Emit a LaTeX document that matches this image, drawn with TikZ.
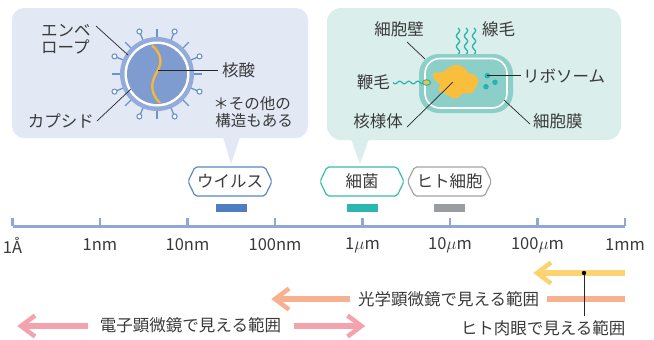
\documentclass[tikz,border=0pt]{standalone}
\usepackage{fontspec}
\setmainfont{Noto Sans CJK JP}
\usetikzlibrary{calc}

\definecolor{txt}{HTML}{3A3A3A}
\definecolor{bubV}{HTML}{E3E8F5}
\definecolor{bubB}{HTML}{DAEEEB}
\definecolor{ringV}{HTML}{93ABDA}
\definecolor{coreV}{HTML}{7F9CD1}
\definecolor{spikeV}{HTML}{6E91CF}
\definecolor{nucl}{HTML}{F6B935}
\definecolor{cellB}{HTML}{8CCFC8}
\definecolor{tealD}{HTML}{2AB3AC}
\definecolor{blob}{HTML}{F9BE3C}
\definecolor{hexV}{HTML}{5B84C8}
\definecolor{hexB}{HTML}{38BAB1}
\definecolor{hexH}{HTML}{A3A3A3}
\definecolor{barV}{HTML}{4F7DC1}
\definecolor{barB}{HTML}{2BB7AF}
\definecolor{barH}{HTML}{9A9D9F}
\definecolor{axisc}{HTML}{8FA7D7}
\definecolor{arrY}{HTML}{FDD370}
\definecolor{arrO}{HTML}{F7B18E}
\definecolor{arrP}{HTML}{F4A2AD}

% elongated hexagon (pointed left/right ends) around a named node
\newcommand\hexframe[2]{%
  \draw[#1, line width=1.2pt, rounded corners=2pt]
    ($(#2)+(-42,0)$) -- ++(7,-14.5) -- ++(70,0) -- ++(7,14.5)
    -- ++(-7,14.5) -- ++(-70,0) -- cycle;}

% open chevron arrow head with its tip at a named coordinate
\newcommand\arrowchevron[2]{%
  \draw[#1, line width=4.5pt, line join=miter]
    ($(#2)+(14,-10.5)$) -- (#2) -- ($(#2)+(14,10.5)$);}

\begin{document}
\begin{tikzpicture}[x=1pt,y=-1pt,
  lbl/.style={font=\fontsize{16.5}{19}\selectfont, text=txt, inner sep=0pt},
  note/.style={font=\fontsize{15.5}{18}\selectfont, text=txt, inner sep=0pt},
  lead/.style={draw=black!85, line width=0.7pt},
  spike/.style={draw=spikeV, line width=1.3pt},
  sizebar/.style={minimum width=31pt, minimum height=8pt, inner sep=0pt},
  band/.style={line width=6pt}]
\useasboundingbox (0,0) rectangle (654,340);

% ---------- speech bubbles ----------
\fill[bubV, rounded corners=12pt] (12,8) rectangle (308,138);
\fill[bubV] (223,137) -- (231,164) -- (240,137) -- cycle;
\fill[bubB, rounded corners=14pt] (327,8) rectangle (621,140);
\fill[bubB] (351,139) -- (360,164) -- (369,139) -- cycle;

% ---------- virus ----------
\coordinate (vc) at (157,74);
\foreach \a in {0,45,...,315}
  \draw[spike] ($(vc)+(\a:36)$) -- ($(vc)+(\a:45)$);
\foreach \a in {22.5,67.5,...,337.5}{
  \draw[spike] ($(vc)+(\a:36)$) -- ($(vc)+(\a:43.5)$);
  \draw[spike, fill=white, line width=1.1pt] ($(vc)+(\a:46)$) circle[radius=2.5];}
\fill[ringV] (vc) circle[radius=37];
\fill[white] (vc) circle[radius=32.5];
\fill[coreV] (vc) circle[radius=30];
\draw[nucl, line width=2.3pt]
  (152,45.5) .. controls (160,52) and (163,61) .. (158,70)
  .. controls (152,80) and (148,91) .. (160,103);

\node[lbl, anchor=west] (env1) at (41,31) {エンベ};
\node[lbl, anchor=west] (env2) at (41,47) {ロープ};
\node[lbl, anchor=east] (cap) at (94,121) {カプシド};
\node[lbl, anchor=west] (nuc) at (222,70) {核酸};
\node[note, anchor=east] (note1) at (291,103.5) {＊その他の};
\node[note, anchor=east] (note2) at (293,121) {構造もある};

\coordinate (envA) at (96,26);   \coordinate (envB) at (128,55);
\coordinate (capA) at (97,121);  \coordinate (capB) at (131,89);
\coordinate (nucA) at (158,70);  \coordinate (nucB) at (218,70);
\draw[lead] (envA) -- (envB);
\draw[lead] (capA) -- (capB);
\draw[lead] (nucA) -- (nucB);

% ---------- bacterium ----------
\foreach \px in {458,466,474}
  \draw[tealD, line width=1.3pt]
    plot[domain=0:27, samples=40, smooth] ({\px+1.6*sin(\x*34)}, {28+\x});
\fill[cellB, rounded corners=20pt] (419,54) rectangle (513,113);
\draw[white, line width=1.6pt, rounded corners=15pt] (425,58.5) rectangle (507,108);
\fill[blob] plot[smooth cycle, tension=0.6] coordinates {
  (433.3,73.3) (443.3,71.7) (450,66.7) (458.3,65) (466.7,70) (468.3,73.3)
  (475,75) (478.3,81.7) (475,88.3) (471.7,93.3) (463.3,93.3) (456.7,98.3)
  (450,96.7) (445,93.3) (438.3,90) (440,85) (435,80)};
\fill[tealD] (487.3,75.7) circle[radius=2.8];
\fill[tealD] (495,82.3) circle[radius=2.8];
\fill[tealD] (486,86.7) circle[radius=2.8];
\draw[tealD, line width=1.2pt]
  plot[domain=393:423, samples=40, smooth] (\x, {82.5+1.3*sin((\x-393)*40)});
\draw[tealD, fill=blob, line width=1pt] (426.5,82.5) ellipse[x radius=4, y radius=2.8];

\node[lbl, anchor=east] (wall) at (424,29) {細胞壁};
\node[lbl, anchor=west] (pili) at (482,29) {線毛};
\node[lbl, anchor=east] (flag) at (390,82) {鞭毛};
\node[lbl, anchor=west] (ribo) at (523,76) {リボソーム};
\node[lbl, anchor=east] (nucd) at (403,121.5) {核様体};
\node[lbl, anchor=west] (memb) at (533,121.5) {細胞膜};

\coordinate (wallA) at (407,42);   \coordinate (wallB) at (425,59);
\coordinate (riboA) at (487.3,75.7); \coordinate (riboB) at (521,75.7);
\coordinate (nucdA) at (407,127);  \coordinate (nucdB) at (453,82);
\coordinate (membA) at (530,124);  \coordinate (membB) at (504,100);
\draw[lead] (wallA) -- (wallB);
\draw[lead] (riboA) -- (riboB);
\draw[lead] (nucdA) -- (nucdB);
\draw[lead] (membA) -- (membB);

% ---------- size tags ----------
\node[lbl] (hv) at (230,181.5) {ウイルス};
\node[lbl] (hb) at (362,181.5) {細菌};
\node[lbl] (hh) at (449.5,181.5) {ヒト細胞};
\hexframe{hexV}{hv}
\hexframe{hexB}{hb}
\hexframe{hexH}{hh}
\node[sizebar, fill=barV] (bv) at (231,208) {};
\node[sizebar, fill=barB] (bb) at (362,208) {};
\node[sizebar, fill=barH] (bh) at (449.5,208) {};

% ---------- logarithmic scale ----------
\draw[axisc, line width=3pt] (12.5,226) -- (625,226);
\foreach \i/\t in {0/1Å,1/1nm,2/10nm,3/100nm,4/1$\mu$m,5/10$\mu$m,6/100$\mu$m,7/1mm}{
  \draw[axisc, line width=2.5pt] (12.5+87.5*\i,226) -- ++(0,-8.5);
  \node[lbl] (ax\i) at (12.5+87.5*\i,245) {\t};}

% ---------- visible ranges ----------
\coordinate (yR) at (625,273);   \coordinate (yT) at (537,273);
\draw[arrY, band] (yR) -- ($(yT)+(1.5,0)$);
\arrowchevron{arrY}{yT}

\node[lbl] (olbl) at (448.5,299) {光学顕微鏡で見える範囲};
\coordinate (oR) at (625,299);  \coordinate (oR2) at (547,299);
\coordinate (oL) at (350,299);  \coordinate (oT) at (275,299);
\draw[arrO, band] (oR) -- (oR2);
\draw[arrO, band] (oL) -- ($(oT)+(1.5,0)$);
\arrowchevron{arrO}{oT}

\node[lbl] (plbl) at (190.5,325.5) {電子顕微鏡で見える範囲};
\coordinate (pL) at (88,326);    \coordinate (pLT) at (21,326);
\coordinate (pR) at (293.5,326); \coordinate (pRT) at (361.5,326);
\draw[arrP, band] (pL) -- ($(pLT)+(1.5,0)$);
\draw[arrP, band] (pR) -- ($(pRT)+(-1.5,0)$);
\arrowchevron{arrP}{pLT}
\draw[arrP, line width=4.5pt, line join=miter]
  ($(pRT)+(-14,-10.5)$) -- (pRT) -- ($(pRT)+(-14,10.5)$);

\node[circle, fill=black, inner sep=0pt, minimum size=4.4pt] (eyedot) at (584,273) {};
\coordinate (eyeend) at (584,316);
\draw[lead] (eyedot) -- (eyeend);
\node[lbl] (eyelbl) at (543,328.5) {ヒト肉眼で見える範囲};
\end{tikzpicture}
\end{document}
